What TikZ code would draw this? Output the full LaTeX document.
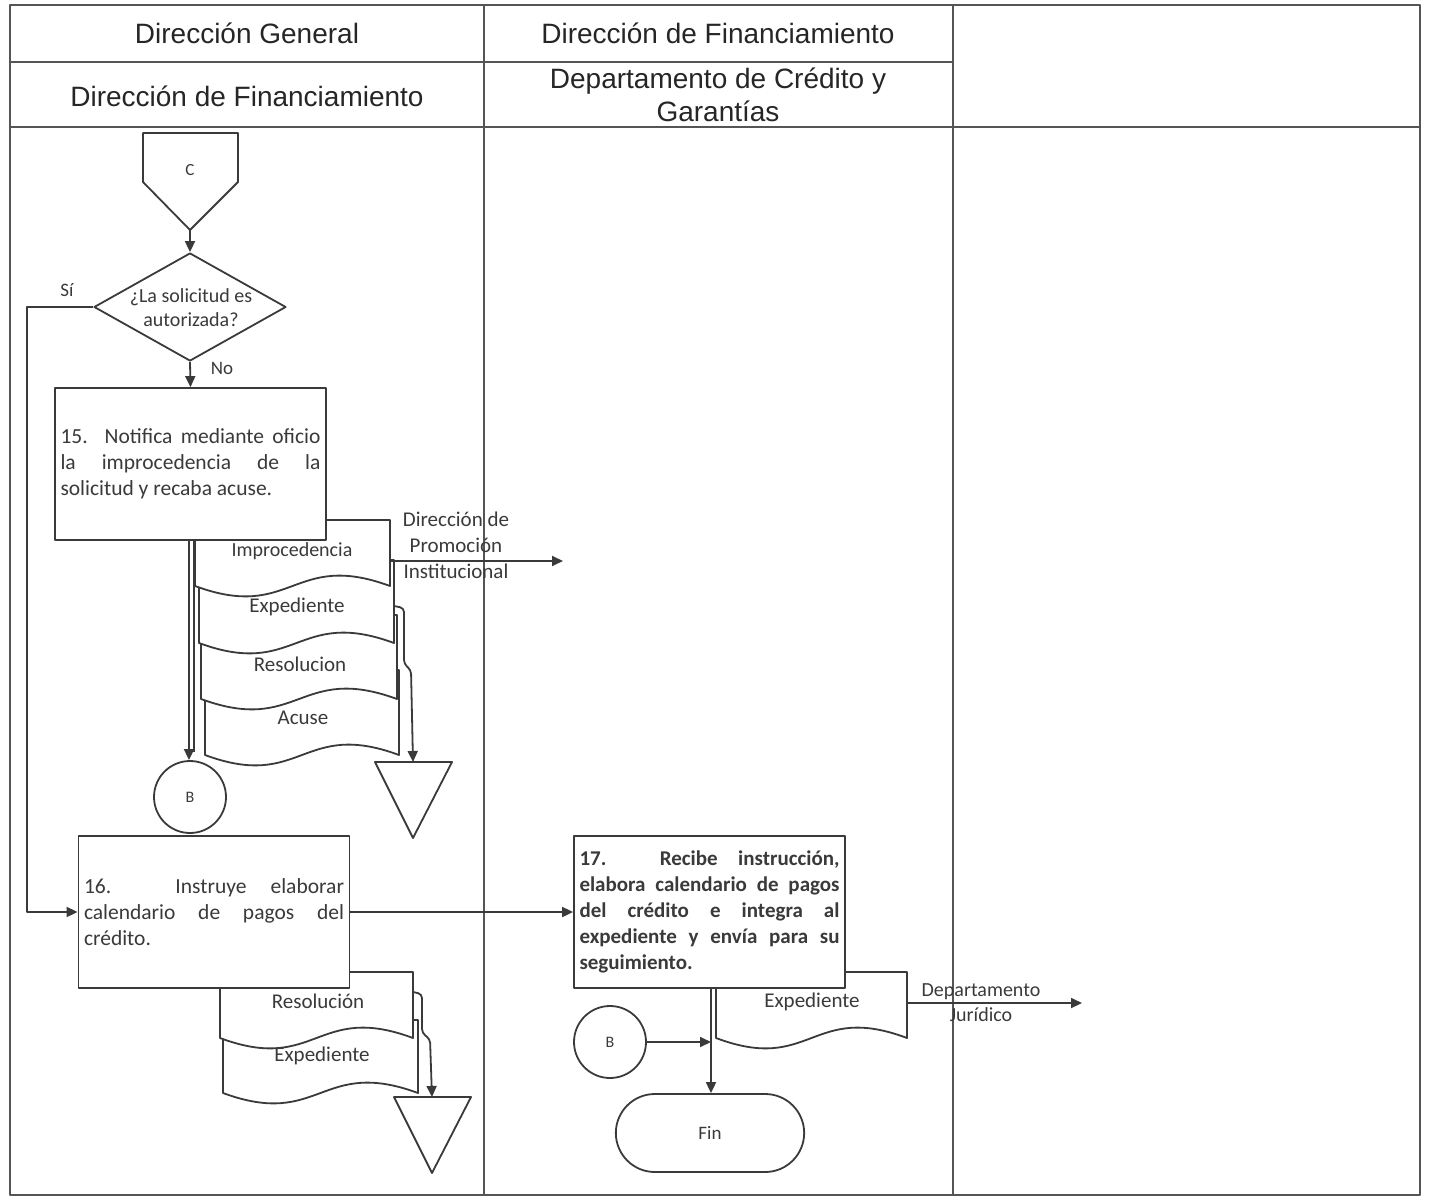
\documentclass[tikz,border=0pt]{standalone}
\usepackage{fontspec}
\setmainfont{Carlito}
\newfontfamily\headfont{Liberation Sans}
\usetikzlibrary{arrows.meta,shapes.geometric,shapes.misc}

\definecolor{ink}{HTML}{3A3A3A}
\definecolor{rule}{HTML}{555555}

% document sheet with a wavy lower edge: left, top, right, base, wave depth
\newcommand\docsheet[5]{%
  \draw[shapeline, fill=white] (#1,#2) -- (#3,#2) -- (#3,#4)
    .. controls ({(#1+#3)/2},{#4-#5}) and ({(#1+#3)/2},{#4+#5}) .. (#1,#4) -- cycle;}

\begin{document}
\tolerance=9999
\hbadness=10000
\begin{tikzpicture}[x=1pt, y=-1pt, line join=round,
  frame/.style={draw=rule, line width=1.3pt},
  shapeline/.style={draw=ink, line width=1.8pt},
  plainline/.style={draw=ink, line width=1.8pt},
  flow/.style={draw=ink, line width=1.8pt, -{Triangle[length=11pt,width=10pt]}},
  head/.style={font=\headfont\fontsize{28}{33}\selectfont, text=black!85, align=center},
  procbox/.style={shapeline, fill=white, rectangle, minimum width=271pt,
    minimum height=152pt, text width=260pt, inner xsep=5.5pt, inner ysep=0pt,
    align=justify, text=ink, font=\fontsize{21.5}{26}\selectfont},
  txt/.style={font=\fontsize{21}{26}\selectfont, text=ink, align=center, inner sep=0pt},
  small/.style={font=\fontsize{17}{20}\selectfont, text=ink, inner sep=0pt},
  connector/.style={circle, shapeline, minimum size=72pt, inner sep=0pt,
    font=\fontsize{16}{19}\selectfont, text=ink},
]
\useasboundingbox (0,0) rectangle (1429,1198);

% ---- swimlane table ----
\draw[frame] (10,5) rectangle (1420,1195);
\draw[frame] (484,5) -- (484,1195);
\draw[frame] (953,5) -- (953,1195);
\draw[frame] (10,62) -- (953,62);
\draw[frame] (10,127) -- (1420,127);

\node[head] (h1) at (247,33) {Dirección General};
\node[head] (h2) at (718,33) {Dirección de Financiamiento};
\node[head] (h3) at (247,96) {Dirección de Financiamiento};
\node[head] (h4) at (718,95) {Departamento de Crédito y\\Garantías};

% ---- off-page connector C ----
\draw[shapeline, fill=white] (143,133) -- (238,133) -- (238,182) -- (190,230) -- (143,182) -- cycle;
\node[small] (cC) at (190,170) {C};
\coordinate (cTip) at (190,230);

% ---- decision ----
\node[diamond, shapeline, fill=white, minimum width=192pt, minimum height=108pt,
  inner sep=0pt] (dec) at (190,307) {};
\node[font=\fontsize{20}{24}\selectfont, text=ink, align=center, inner sep=0pt]
  (decT) at (191,308) {¿La solicitud es\\autorizada?};
\draw[flow] (cTip) -- (dec.north);
\node[txt, font=\fontsize{19}{22}\selectfont] (si) at (67,290) {Sí};
\node[txt, font=\fontsize{19}{22}\selectfont] (no) at (222,368) {No};

% ---- documents issued by step 15 ----
\docsheet{205}{670}{399}{755}{36}
\docsheet{201}{615}{397}{699}{36}
\docsheet{199}{560}{394}{643}{36}
\docsheet{195}{520}{390}{586}{36}
\node[txt, font=\fontsize{20}{24}\selectfont] (dImp) at (292,551) {Improcedencia};
\node[txt] (dExp1) at (297,607) {Expediente};
\node[txt] (dRes1) at (300,664) {Resolucion};
\node[txt] (dAcu) at (303,718) {Acuse};
\coordinate (impE) at (390,561);
\coordinate (expE) at (394,606);
\coordinate (promo) at (563,561);

% ---- step 15 ----
\node[procbox] (b15) at (190.5,464)
  {15. Notifica mediante oficio\linebreak la improcedencia de la\linebreak solicitud y recaba acuse.};
\draw[flow] (dec.south) -- (b15.north);
\draw[plainline] (194,540) -- (194,752);

% archive 1
\coordinate (arch1) at (413,762);
\draw[shapeline, fill=white] (375,762) -- (452,762) -- (413,838) -- cycle;
\draw[flow, rounded corners=4pt] (expE) -- (404,608) -- (404,664) -- (411,670) -- (arch1);

\draw[flow] (impE) -- (promo);
\node[txt] (promoT) at (456,545) {Dirección de\\Promoción\\Institucional};

% connector B (outgoing)
\node[connector] (B1) at (190,797) {B};
\draw[flow] (b15.south -| 189,0) -- (B1.north -| 189,0);

% ---- documents issued by step 16 ----
\docsheet{223}{1020}{418}{1093}{36}
\docsheet{220}{972}{413}{1038}{36}
\node[txt] (dRes2) at (318,1001) {Resolución};
\node[txt] (dExp2) at (322,1056) {Expediente};
\coordinate (resE) at (413,992);

% ---- step 16 ----
\node[procbox] (b16) at (214,912)
  {16. Instruye elaborar\linebreak calendario de pagos del\linebreak crédito.};
\draw[flow] (dec.west) -- (27,307) |- (b16.west);

% archive 2
\coordinate (arch2) at (432,1097);
\draw[shapeline, fill=white] (394,1097) -- (471,1097) -- (432,1173) -- cycle;
\draw[flow, rounded corners=4pt] (resE) -- (422,994) -- (422,1033) -- (430,1039) -- (arch2);

% ---- document issued by step 17 ----
\docsheet{716}{972}{907}{1038}{36}
\node[txt] (dExp3) at (812,1002) {Expediente};
\coordinate (d17E) at (907,1003);
\coordinate (jur) at (1082,1003);

% ---- step 17 ----
\node[procbox, font=\bfseries\fontsize{21}{26}\selectfont]
  (b17) at (709.5,912)
  {17. Recibe instrucción,\linebreak elabora calendario de pagos\linebreak del crédito e integra al\linebreak expediente y envía para su\linebreak seguimiento.};
\draw[flow] (b16.east) -- (b17.west);

\draw[flow] (d17E) -- (jur);
\node[txt, font=\fontsize{20}{25}\selectfont] (jurT) at (981,1003) {Departamento\\Jurídico};

% ---- end ----
\node[rounded rectangle, shapeline, fill=white, minimum width=195pt, minimum height=78pt,
  font=\fontsize{19}{22}\selectfont, text=ink] (fin) at (710,1133) {Fin};
\draw[flow] (b17.south -| 711,0) -- (fin.north -| 711,0);

% connector B (incoming)
\node[connector] (B2) at (610,1042) {B};
\coordinate (join) at (711,1042);
\draw[flow] (B2.east) -- (join);
\end{tikzpicture}
\end{document}
